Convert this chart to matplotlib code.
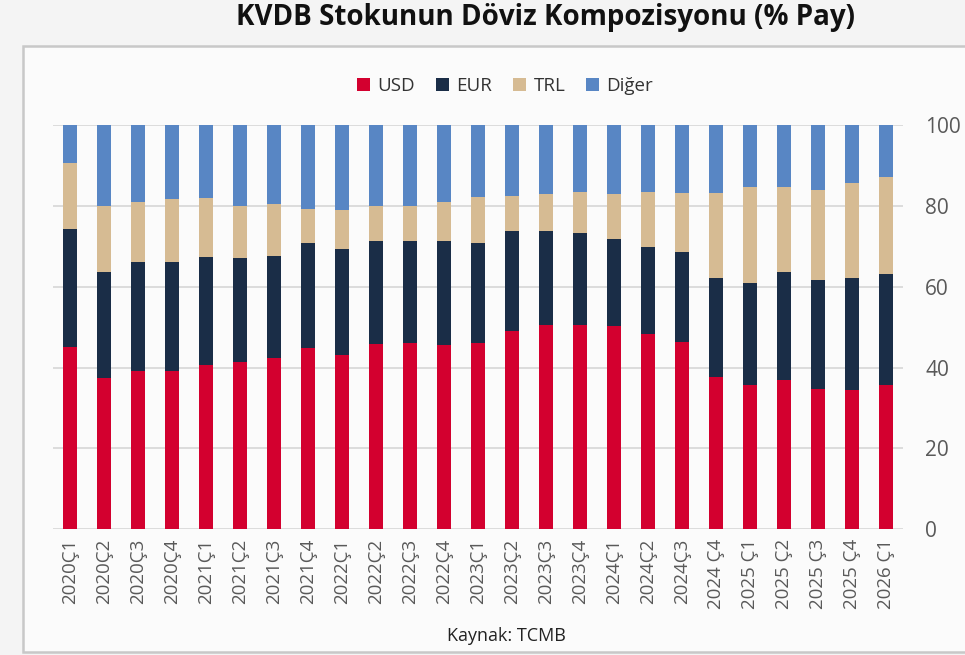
import matplotlib
matplotlib.use("Agg")
import matplotlib.pyplot as plt
from matplotlib.patches import Rectangle
import numpy as np

plt.rcParams['font.family'] = ['Open Sans', 'DejaVu Sans']

quarters = ["2020Ç1", "2020Ç2", "2020Ç3", "2020Ç4",
            "2021Ç1", "2021Ç2", "2021Ç3", "2021Ç4",
            "2022Ç1", "2022Ç2", "2022Ç3", "2022Ç4",
            "2023Ç1", "2023Ç2", "2023Ç3", "2023Ç4",
            "2024Ç1", "2024Ç2", "2024Ç3", "2024 Ç4",
            "2025 Ç1", "2025 Ç2", "2025 Ç3", "2025 Ç4", "2026 Ç1"]

usd = [45.2, 37.3, 39.2, 39.1, 40.7, 41.3, 42.4, 44.9, 43.2, 45.8, 46.2, 45.5, 46.2,
       49.0, 50.5, 50.5, 50.2, 48.3, 46.4, 37.6, 35.7, 37.0, 34.7, 34.5, 35.7]
eur = [29.2, 26.3, 26.9, 27.0, 26.7, 25.7, 25.3, 25.9, 26.1, 25.4, 25.0, 25.7, 24.6,
       24.8, 23.3, 22.9, 21.6, 21.6, 22.3, 24.5, 25.1, 26.6, 27.0, 27.6, 27.5]
trl = [16.3, 16.4, 14.9, 15.5, 14.5, 13.0, 12.7, 8.5, 9.7, 8.8, 8.8, 9.7, 11.3,
       8.7, 9.1, 10.1, 11.1, 13.6, 14.6, 21.0, 23.8, 21.0, 22.2, 23.6, 24.0]
diger = [9.3, 20.0, 19.0, 18.4, 18.1, 20.0, 19.6, 20.7, 21.0, 20.0, 20.0, 19.1, 17.9,
         17.5, 17.1, 16.5, 17.1, 16.5, 16.7, 16.9, 15.4, 15.4, 16.1, 14.3, 12.8]

series = ["USD", "EUR", "TRL", "Diğer"]
colors = ["#d3002f", "#1a2d47", "#d6bb93", "#5886c4"]

fig = plt.figure(figsize=(9.65, 6.55), dpi=100)
fig.patch.set_facecolor("#f4f4f4")

# inner frame
frame = Rectangle((23 / 965, 0.005), 1.0, (655 - 46) / 655 - 0.005,
                  transform=fig.transFigure, facecolor="#fbfbfb",
                  edgecolor="#c8c8c8", linewidth=1.8, zorder=-10)
fig.patches.append(frame)

ax = fig.add_axes([52.7 / 965, 125.7 / 655, (903 - 52.7) / 965, (529.3 - 125) / 655])
ax.set_facecolor("none")
ax.set_zorder(2)

x = np.arange(len(quarters))
bottom = np.zeros(len(quarters))
handles = []
for name, vals, col in zip(series, [usd, eur, trl, diger], colors):
    b = ax.bar(x, vals, bottom=bottom, width=0.4, color=col, label=name, zorder=2)
    handles.append(b)
    bottom += np.array(vals)

ax.set_xlim(-0.5, len(quarters) - 0.5)
ax.set_ylim(0, 100)
ax.set_yticks(np.arange(0, 101, 20))
ax.yaxis.tick_right()
ax.yaxis.grid(True, color="#d6d6d6", linewidth=1.2, zorder=0)
ax.set_axisbelow(True)
for s in ax.spines.values():
    s.set_visible(False)
ax.tick_params(axis='y', length=0, pad=16, labelsize=15, labelcolor="#595959")
ax.tick_params(axis='x', length=0, pad=7, labelsize=13.5, labelcolor="#595959")
ax.set_xticks(x)
ax.set_xticklabels(quarters, rotation=90)

fig.text(546 / 965, 1 - 18 / 655, "KVDB Stokunun Döviz Kompozisyonu (% Pay)",
         ha="center", va="center", fontsize=20, fontweight="bold", color="#111111")

leg = fig.legend(handles=handles, labels=series, loc="center",
                 bbox_to_anchor=(505 / 965, 1 - 86 / 655), ncol=4, frameon=False,
                 fontsize=13.5, handlelength=0.7, handleheight=0.7, handletextpad=0.4,
                 columnspacing=1.1)
for t in leg.get_texts():
    t.set_color("#333333")

fig.text(506 / 965, 1 - 636 / 655, "Kaynak: TCMB", ha="center", va="center",
         fontsize=13, color="#222222")

fig.savefig("out.png", dpi=100, facecolor=fig.get_facecolor())
